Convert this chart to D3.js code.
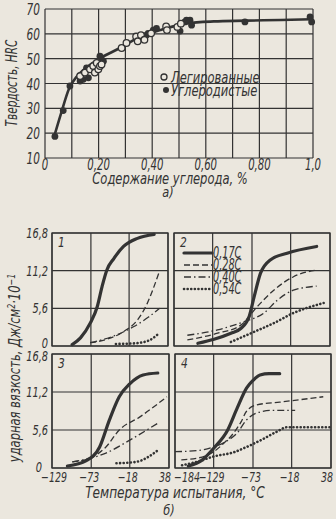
<!DOCTYPE html>
<html><head><meta charset="utf-8">
<script src="https://cdn.jsdelivr.net/npm/d3@7"></script>
<style>
html,body{margin:0;padding:0;background:#ebe7de;}
svg{display:block;}
text{font-family:"DejaVu Sans Condensed","DejaVu Sans",sans-serif;font-style:italic;fill:#333;}
</style></head><body>
<svg id="c" width="336" height="519"></svg>
<script>
// ---------- DATA: chart a) ----------
const carbonGrid = [0,0.1,0.2,0.3,0.4,0.5,0.6,0.7,0.8,0.9,1.0];
const carbonTickValues = [0,0.2,0.4,0.6,0.8,1.0];
const carbonTickLabels = ["0","0,20","0,40","0,60","0,80","1,0"];
const hrcTicks = [10,20,30,40,50,60,70];
const curveC   = [0.035,0.06,0.09,0.12,0.15,0.2,0.28,0.35,0.43,0.53,0.63,0.75,0.88,1.0];
const curveHRC = [19,28,38,43,46,49.8,54.3,58.6,61.5,64.2,65,65.3,65.6,65.9];
const alloyedC   = [0.131,0.149,0.168,0.18,0.186,0.193,0.199,0.205,0.211,0.286,0.304,0.34,0.346,0.358,0.371,0.396,0.452,0.455,0.494,0.507];
const alloyedHRC = [43,44.4,45.7,47,44.4,48.3,45.7,47,47.7,54.3,56.3,58.9,57,59.5,57.6,60.2,63,61.5,62.8,64.1];
const carbonC   = [0.037,0.068,0.093,0.131,0.143,0.155,0.162,0.205,0.211,0.218,0.379,0.385,0.404,0.416,0.504,0.522,0.528,0.541,0.547,0.746,0.989,0.995];
const carbonHRC = [18.7,29.1,39,41,41.7,46.3,42.3,51,49.6,49,59.5,60.2,61.5,62.2,61.1,64.8,65.5,65.5,63.5,64.8,66.8,64.8];
const legendLabels = ["Легированные","Углеродистые"];

// ---------- DATA: chart б) ----------
const toughTicks = [0,5.6,11.2,16.8];
const toughTickLabels = ["0","5,6","11,2","16,8"];
const tempTicksNarrow = [-129,-73,-18,38];
const tempTicksWide = [-184,-129,-73,-18,38];
const steelLabels = ["0,17C","0,28C","0,40C","0,54C"];
const panelNames = ["1","2","3","4"];
// each series: [temperature °C, impact toughness]
const p1_017 = [[-100,0.2],[-88,1.2],[-74,3.4],[-64,5.8],[-57,8.8],[-50,11.3],[-40,13],[-26,14.8],[-6,16],[18,16.6]];
const p1_028 = [[-74,0.5],[-50,1],[-25,2.2],[-5,4],[8,6.3],[17,8.6],[26,11.2]];
const p1_040 = [[-74,0.5],[-45,1.3],[-11,2.9],[10,4.3],[26,5.6]];
const p1_054 = [[-37,0.3],[-10,0.4],[10,0.8],[23,1.7]];
const p2_017 = [[-150,0.4],[-127,1],[-103,1.9],[-89,2.6],[-77,4.4],[-70,7.3],[-61,10.8],[-47,12.8],[-23,13.8],[19,14.8]];
const p2_028 = [[-165,0.9],[-122,1.9],[-89,3.1],[-66,5.8],[-42,8.3],[-14,10.3],[19,11.3]];
const p2_040 = [[-165,1.6],[-122,2.4],[-85,3.6],[-56,4.9],[-37,6.8],[-14,8.3],[19,8.9]];
const p2_054 = [[-103,0.6],[-70,2.1],[-42,3.4],[-14,4.9],[29,6.4]];
const p3_017 = [[-107,0.3],[-80,1.1],[-61,3.1],[-47,7.1],[-33,10.5],[-18,12.4],[1,13.7],[22,14]];
const p3_028 = [[-100,0.9],[-76,1.4],[-52,3.1],[-33,5.6],[-4,7.5],[35,10.5]];
const p3_040 = [[-100,0.9],[-76,1.4],[-52,2.2],[-18,4.1],[22,6.6]];
const p3_054 = [[-37,0.7],[-9,0.9],[22,2.6]];
const p4_017 = [[-165,0.3],[-145,1.2],[-129,2.9],[-109,5.6],[-96,8.7],[-82,11.8],[-73,12.9],[-63,13.7],[-50,13.9],[-35,13.9]];
const p4_028 = [[-175,1.2],[-150,1.5],[-129,2.4],[-115,3.6],[-101,5.1],[-90,6.8],[-82,8.4],[-68,9.3],[-35,9.7],[27,10.5]];
const p4_040 = [[-184,2.4],[-150,2.6],[-129,3.1],[-110,4],[-96,5.1],[-82,7.1],[-68,8.1],[-44,8.5],[-13,8.5]];
const p4_054 = [[-174,0.4],[-150,1],[-129,1.7],[-101,2.3],[-82,3.1],[-60,4.2],[-40,5.3],[-25,6],[38,6]];

// ---------- DRAW ----------
const INK = "#333", BG = "#ebe7de";
const svg = d3.select("#c");
function label(parent,x,y,s,o){
  o = Object.assign({anchor:"middle",size:14,sx:0.8,rot:0},o||{});
  const g = parent.append("g").attr("transform",`translate(${x},${y}) rotate(${o.rot}) scale(${o.sx},1)`);
  return g.append("text").attr("text-anchor",o.anchor).attr("font-size",o.size).text(s);
}

// ---- chart a)
{
  const x = d3.scaleLinear().domain([0,1]).range([45,313]);
  const y = d3.scaleLinear().domain([10,70]).range([158,9]);
  const g = svg.append("g");
  g.selectAll("line.vx").data(carbonGrid).join("line")
    .attr("x1",d=>x(d)).attr("x2",d=>x(d)).attr("y1",y(10)).attr("y2",y(70))
    .attr("stroke",INK).attr("stroke-width",1.2);
  g.selectAll("line.hy").data(hrcTicks).join("line")
    .attr("x1",x(0)).attr("x2",x(1)).attr("y1",d=>y(d)).attr("y2",d=>y(d))
    .attr("stroke",INK).attr("stroke-width",1.2);
  hrcTicks.forEach(d=>label(g,40,y(d)+6,String(d),{anchor:"end",size:15,sx:0.78}));
  carbonTickValues.forEach((d,i)=>label(g,x(d),170,carbonTickLabels[i],{size:15,sx:0.75}));
  const pts = curveC.map((c,i)=>[c,curveHRC[i]]);
  g.append("path").attr("d",d3.line().x(d=>x(d[0])).y(d=>y(d[1])).curve(d3.curveMonotoneX)(pts))
    .attr("fill","none").attr("stroke",INK).attr("stroke-width",2.6);
  g.selectAll("circle.cb").data(carbonC).join("circle")
    .attr("cx",d=>x(d)).attr("cy",(d,i)=>y(carbonHRC[i])).attr("r",3.4).attr("fill",INK);
  g.selectAll("circle.al").data(alloyedC).join("circle")
    .attr("cx",d=>x(d)).attr("cy",(d,i)=>y(alloyedHRC[i])).attr("r",3.3)
    .attr("fill",BG).attr("stroke",INK).attr("stroke-width",1.3);
  // legend
  g.append("circle").attr("cx",164).attr("cy",77).attr("r",3).attr("fill",BG).attr("stroke",INK).attr("stroke-width",1.3);
  label(g,171,83,legendLabels[0],{anchor:"start",size:16,sx:0.8});
  g.append("circle").attr("cx",166).attr("cy",90).attr("r",3).attr("fill",INK);
  label(g,171,96,legendLabels[1],{anchor:"start",size:16,sx:0.8});
  // titles
  label(g,17,83,"Твердость, HRC",{size:15,sx:0.78,rot:-90});
  label(g,170,184,"Содержание  углерода, %",{size:16,sx:0.8});
  label(g,168,197,"а)",{size:14,sx:0.9});
}

// ---- chart б)
const panels = [
  {x0:52,x1:168,y0:233,y1:346,dom:[-129,38],grid:tempTicksNarrow,series:[p1_017,p1_028,p1_040,p1_054]},
  {x0:174,x1:330,y0:233,y1:346,dom:[-184,38],grid:tempTicksWide,series:[p2_017,p2_028,p2_040,p2_054]},
  {x0:52,x1:169,y0:354,y1:468,dom:[-129,38],grid:tempTicksNarrow,series:[p3_017,p3_028,p3_040,p3_054]},
  {x0:175,x1:331,y0:354,y1:468,dom:[-184,38],grid:tempTicksWide,series:[p4_017,p4_028,p4_040,p4_054]}
];
const styles = [
  {w:3.2,dash:null,cap:"round"},
  {w:1.3,dash:"6,3",cap:"butt"},
  {w:1.3,dash:"7,3,1.5,3",cap:"butt"},
  {w:2.6,dash:"0.1,3.5",cap:"round"}
];
panels.forEach((p,pi)=>{
  const g = svg.append("g");
  const x = d3.scaleLinear().domain(p.dom).range([p.x0,p.x1]);
  const y = d3.scaleLinear().domain([0,16.8]).range([p.y1,p.y0]);
  g.append("rect").attr("x",p.x0).attr("y",p.y0).attr("width",p.x1-p.x0).attr("height",p.y1-p.y0)
    .attr("fill","none").attr("stroke",INK).attr("stroke-width",1.3);
  g.selectAll("line.v").data(p.grid).join("line")
    .attr("x1",d=>x(d)).attr("x2",d=>x(d)).attr("y1",p.y0).attr("y2",p.y1)
    .attr("stroke",INK).attr("stroke-width",1.2);
  g.selectAll("line.h").data(toughTicks).join("line")
    .attr("x1",p.x0).attr("x2",p.x1).attr("y1",d=>y(d)).attr("y2",d=>y(d))
    .attr("stroke",INK).attr("stroke-width",1.2);
  const line = d3.line().x(d=>x(d[0])).y(d=>y(d[1])).curve(d3.curveMonotoneX);
  p.series.forEach((s,si)=>{
    const st = styles[si];
    const path = g.append("path").attr("d",line(s)).attr("fill","none").attr("stroke",INK)
      .attr("stroke-width",st.w).attr("stroke-linecap",st.cap).attr("stroke-linejoin","round");
    if(st.dash) path.attr("stroke-dasharray",st.dash);
  });
  label(g,p.x0+6,p.y0+14,panelNames[pi],{anchor:"start",size:14,sx:0.85});
  if(pi%2===0){
    toughTicks.forEach((d,i)=>{
      let dy = 5, xx = p.x0-4;
      if(i===0) dy = (pi===0 ? 2 : 4);
      if(i===0 && pi===2) xx = p.x0-10;
      if(i===toughTicks.length-1 && pi===2) dy = 7;
      label(g,xx,y(d)+dy,toughTickLabels[i],{anchor:"end",size:14,sx:0.78});
    });
  }
  if(pi>=2){
    p.grid.forEach((d,i)=>{
      const last = i===p.grid.length-1;
      const first = i===0;
      const anchor = last ? "end" : (first ? "start" : "middle");
      const dx = last ? 2 : (first ? (pi===3 ? -1 : -11) : -2);
      label(g,x(d)+dx,p.y1+14,d<0 ? "\u2212"+Math.abs(d) : String(d),{anchor:anchor,size:14,sx:0.75});
    });
  }
});
// legend in panel 2
{
  const g = svg.append("g");
  const ys = [253,265,277,289];
  steelLabels.forEach((lab,i)=>{
    const st = styles[i];
    const l = g.append("line").attr("x1",184).attr("x2",212).attr("y1",ys[i]).attr("y2",ys[i])
      .attr("stroke",INK).attr("stroke-width",st.w).attr("stroke-linecap",st.cap);
    if(st.dash) l.attr("stroke-dasharray",st.dash);
    label(g,213,ys[i]+5,lab,{anchor:"start",size:15,sx:0.72});
  });
}
{
  const t = label(svg,20,368,"",{size:16,sx:0.8,rot:-90});
  t.append("tspan").text("ударная вязкость, Дж/см");
  t.append("tspan").attr("dy",-5).attr("font-size",11).text("2");
  t.append("tspan").attr("dy",5).text("·10");
  t.append("tspan").attr("dy",-5).attr("font-size",11).text("−1");
}
label(svg,175,498,"Температура  испытания, °C",{size:15,sx:0.9});
label(svg,169,515,"б)",{size:14,sx:0.9});
</script>
</body></html>
